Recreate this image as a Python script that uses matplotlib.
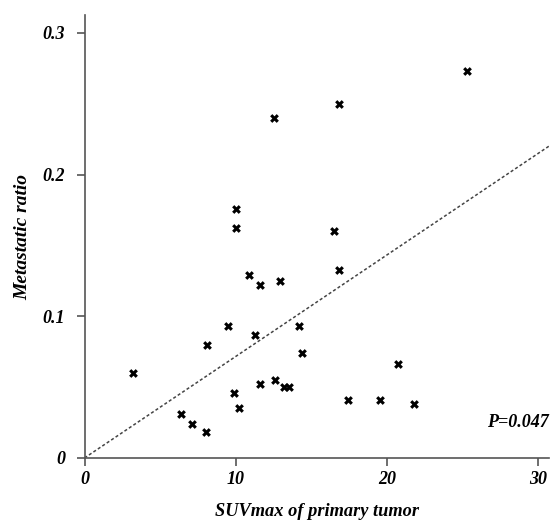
import matplotlib.pyplot as plt

# SUVmax of primary tumor vs metastatic ratio
suv = [3.2, 8.1, 6.4, 7.1, 8.0, 9.9, 10.2, 11.6, 12.6, 10.0, 10.0, 16.5, 16.8,
       10.9, 11.6, 12.9, 9.5, 11.3, 14.2, 14.4, 20.7, 13.2, 13.5, 17.4, 19.5,
       21.8, 16.8, 25.3, 12.5]
ratio = [0.060, 0.080, 0.031, 0.024, 0.018, 0.046, 0.035, 0.052, 0.055, 0.176,
         0.162, 0.160, 0.133, 0.129, 0.122, 0.125, 0.093, 0.087, 0.093, 0.074,
         0.066, 0.050, 0.050, 0.041, 0.041, 0.038, 0.250, 0.273, 0.240]

fit_slope = 0.00717
fit_intercept = 0.0
xmax = 30.7
ymax = 0.3126
p_text = "P=0.047"

plt.rcParams['font.family'] = ['Liberation Serif', 'DejaVu Serif']

fig = plt.figure(figsize=(5.51, 5.21), dpi=100)
ax = fig.add_axes([0.1534, 0.121, 0.843, 0.850])

ax.plot([0, xmax], [fit_intercept, fit_intercept + fit_slope * xmax],
        linestyle=(0, (2, 1.5)), color='#444444', linewidth=1.1)
ax.scatter(suv, ratio, marker='X', s=40, color='black', linewidths=0, zorder=3)

ax.set_xlim(0, xmax)
ax.set_ylim(0, ymax)
ax.set_xticks([0, 10, 20, 30])
ax.set_xticklabels(['0', '10', '20', '30'])
ax.set_yticks([0, 0.1, 0.2, 0.3])
ax.set_yticklabels(['0', '0.1', '0.2', '0.3'])

for s in ['top', 'right']:
    ax.spines[s].set_visible(False)
for s in ['left', 'bottom']:
    ax.spines[s].set_color('#555555')
    ax.spines[s].set_linewidth(1.2)

ax.tick_params(axis='both', direction='out', length=6, width=1.2, color='#555555',
               labelsize=13)
ax.tick_params(axis='y', pad=8)
for lab in ax.get_xticklabels() + ax.get_yticklabels():
    lab.set_fontweight('bold')
    lab.set_fontstyle('italic')

ax.set_xlabel('SUVmax of primary tumor', fontsize=13.2, fontweight='bold',
              fontstyle='italic', labelpad=11)
ax.set_ylabel('Metastatic ratio', fontsize=14, fontweight='bold',
              fontstyle='italic', labelpad=8)

ax.text(0.999, 0.08, p_text, transform=ax.transAxes, ha='right', va='center',
        fontsize=13, fontweight='bold', fontstyle='italic')

fig.savefig('out.png', dpi=100)
